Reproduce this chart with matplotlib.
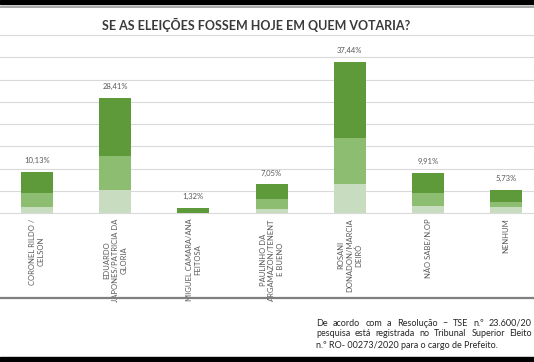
import matplotlib.pyplot as plt
from matplotlib.patches import Rectangle
from matplotlib.lines import Line2D

# dados da pesquisa
candidatos = ["CORONEL RILDO /\nCELSON",
              "EDUARDO\nJAPONES/PATRICIA DA\nGLORIA",
              "MIGUEL CAMARA/ANA\nFEITOSA",
              "PAULINHO DA\nARGAMAZON/TENENT\nE BUENO",
              "ROSANI\nDONADON/MARCIA\nDEIRÓ",
              "NÃO SABE/N.OP",
              "NENHUM"]
totais = [10.13, 28.41, 1.32, 7.05, 37.44, 9.91, 5.73]
rotulos = ["10,13%", "28,41%", "1,32%", "7,05%", "37,44%", "9,91%", "5,73%"]
# segmentos empilhados (claro, médio, escuro)
seg_claro = [1.5, 5.7, 0.0, 1.0, 7.2, 1.7, 1.5]
seg_medio = [3.5, 8.4, 0.0, 2.5, 11.4, 3.2, 1.2]
seg_escuro = [5.13, 14.31, 1.32, 3.55, 18.84, 5.01, 3.03]

# nota (cortada na borda direita, como na imagem original)
nota = ["De acordo com a Resolução – TSE n.º 23.600/20",
        "pesquisa está registrada no Tribunal Superior Eleito",
        "n.º RO- 00273/2020 para o cargo de Prefeito."]

plt.rcParams['font.family'] = ['Lato', 'DejaVu Sans']

fig = plt.figure(figsize=(5.34, 3.62), dpi=100)
ax = fig.add_axes([0, 0.4116, 1, 0.4917])

x = range(len(candidatos))
largura = 0.41
ax.bar(x, seg_claro, largura, color='#c8dcbf', zorder=3)
ax.bar(x, seg_medio, largura, bottom=seg_claro, color='#8dbd70', zorder=3)
base = [a + b for a, b in zip(seg_claro, seg_medio)]
ax.bar(x, seg_escuro, largura, bottom=base, color='#5e9a3a', zorder=3)

for i, (t, r) in enumerate(zip(totais, rotulos)):
    ax.annotate(r, (i, t), xytext=(0, 5.5), textcoords='offset points',
                ha='center', va='bottom', fontsize=5.5, color='#595959')

ax.set_xlim(-0.473, 6.355)
ax.set_ylim(0, 44)
ax.set_yticks([i * 5.5 for i in range(9)])
ax.set_yticklabels([])
ax.grid(axis='y', color='#d9d9d9', linewidth=0.8, zorder=0)
for s in ax.spines.values():
    s.set_visible(False)
ax.tick_params(length=0)
ax.set_xticks(list(x))
ax.set_xticklabels(candidatos, rotation=90, fontsize=5.5, color='#595959',
                   multialignment='center', linespacing=1.25)
ax.tick_params(axis='x', pad=4)
for g in ax.get_ygridlines():
    g.set_clip_on(False)

fig.text(0.48, 0.931, "SE AS ELEIÇÕES FOSSEM HOJE EM QUEM VOTARIA?",
         ha='center', va='center', fontsize=9, fontweight='bold', color='#3a3a3a')

# nota justificada: as duas primeiras linhas vão até a borda
renderer = fig.canvas.get_renderer()
x0, x1 = 316, 532
for k, linha in enumerate(nota):
    y = 1 - (323 + 11 * k) / 362
    palavras = linha.split(" ")
    if k == len(nota) - 1:
        fig.text(x0 / 534, y, linha, ha='left', va='center', fontsize=6.5, color='#262626')
        continue
    objs = [fig.text(0, y, p, ha='left', va='center', fontsize=6.5, color='#262626')
            for p in palavras]
    larg = [o.get_window_extent(renderer).width for o in objs]
    espaco = (x1 - x0 - sum(larg)) / (len(objs) - 1)
    pos = x0
    for o, w in zip(objs, larg):
        o.set_x(pos / 534)
        pos += w + espaco

# moldura da imagem
fig.patches.append(Rectangle((0, 1 - 3.5 / 362), 1, 3.5 / 362, transform=fig.transFigure,
                             color='black', zorder=5))
fig.patches.append(Rectangle((0, 0), 1, 5 / 362, transform=fig.transFigure,
                             color='black', zorder=5))
fig.lines.append(Line2D([0, 1], [1 - 7 / 362] * 2, transform=fig.transFigure,
                        color='#9a9a9a', linewidth=1.2))
fig.lines.append(Line2D([0, 1], [1 - 298 / 362] * 2, transform=fig.transFigure,
                        color='#7f7f7f', linewidth=1.6))

fig.savefig("out.png", dpi=100)
